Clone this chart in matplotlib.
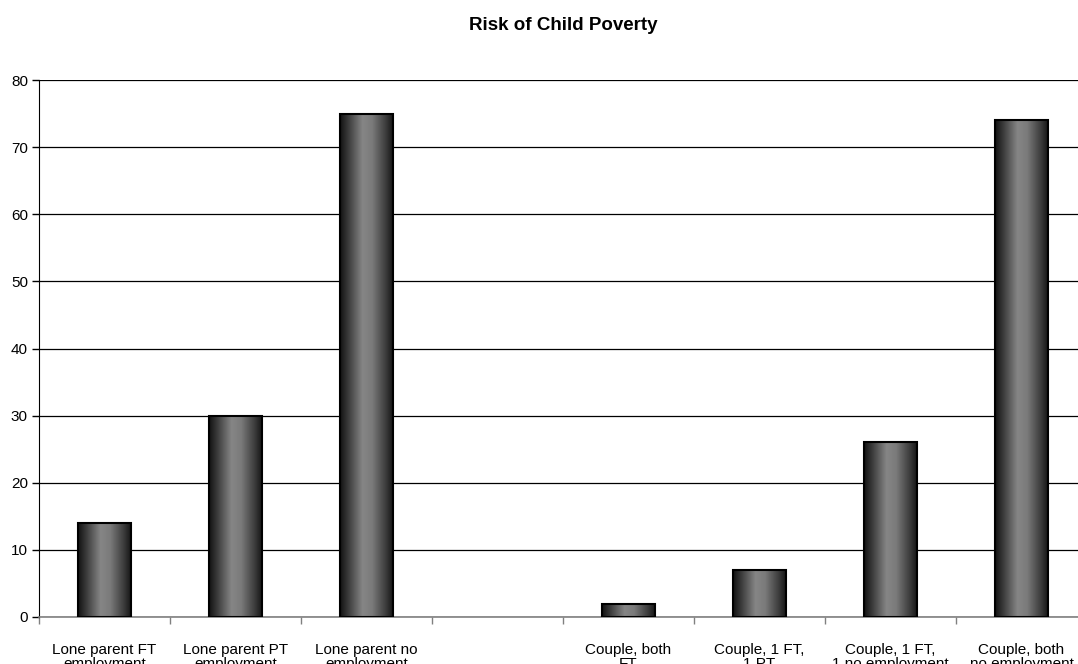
import numpy as np
import matplotlib.pyplot as plt
from matplotlib.colors import LinearSegmentedColormap

plt.rcParams['font.family'] = ['Liberation Sans', 'DejaVu Sans']

# data
categories = ['Lone parent FT\nemployment', 'Lone parent PT\nemployment',
              'Lone parent no\nemployment', '',
              'Couple, both\nFT', 'Couple, 1 FT,\n1 PT',
              'Couple, 1 FT,\n1 no employment', 'Couple, both\nno employment']
risk = [14, 30, 75, np.nan, 2, 7, 26, 74]
yticks = [0, 10, 20, 30, 40, 50, 60, 70, 80]

# horizontal shading used inside each bar
shade = LinearSegmentedColormap.from_list('shade', [
    (0.0, '#111111'), (0.15, '#3a3a3a'), (0.42, '#868686'),
    (0.6, '#7a7a7a'), (0.85, '#3c3c3c'), (1.0, '#111111')])
grad = np.linspace(0, 1, 256).reshape(1, -1)

fig = plt.figure(figsize=(10.78, 6.64), dpi=100)
ax = fig.add_axes([39 / 1078, 47 / 664, 1048 / 1078, 537 / 664])

x = np.arange(len(categories))
vals = np.nan_to_num(np.array(risk, dtype=float))
bars = ax.bar(x, vals, width=0.41, color='none', edgecolor='black',
              linewidth=1.5, zorder=3)
for b, v in zip(bars, risk):
    if np.isnan(v):
        b.set_visible(False)
        continue
    im = ax.imshow(grad, cmap=shade, aspect='auto', zorder=2,
                   extent=[b.get_x(), b.get_x() + b.get_width(), 0, b.get_height()])
    im.set_clip_path(b)

ax.set_xlim(-0.5, len(categories) - 0.5)
ax.set_ylim(0, 80)
ax.set_yticks(yticks)
ax.yaxis.grid(True, color='black', linewidth=0.9)
ax.set_axisbelow(True)

ax.set_xticks(x)
ax.set_xticklabels(categories, fontsize=11, linespacing=1.0)
ax.set_xticks(np.arange(len(categories) + 1) - 0.5, minor=True)
ax.tick_params(axis='x', which='major', length=0, pad=19)
ax.tick_params(axis='x', which='minor', length=5, width=1, color='#808080')
ax.tick_params(axis='y', labelsize=11, length=5, width=1, color='black', pad=3)

for s in ['top', 'right']:
    ax.spines[s].set_visible(False)
ax.spines['left'].set_color('black')
ax.spines['bottom'].set_color('#808080')
ax.spines['bottom'].set_linewidth(1.2)

fig.text(0.5223, 1 - 25 / 664, 'Risk of Child Poverty', ha='center', va='center',
         fontsize=13.5, fontweight='bold')

fig.savefig('out.png', dpi=100)
